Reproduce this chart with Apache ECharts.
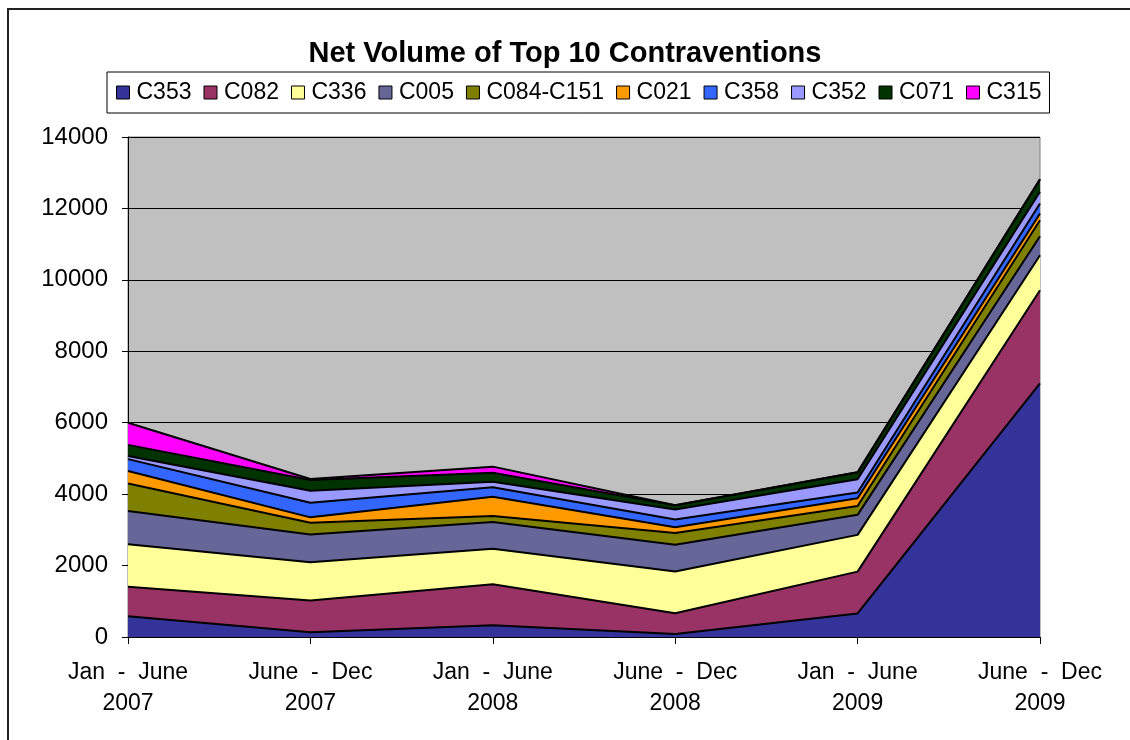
<!DOCTYPE html>
<html>
<head>
<meta charset="utf-8">
<script src="https://cdn.jsdelivr.net/npm/echarts@6/dist/echarts.min.js"></script>
<style>html,body{margin:0;padding:0;background:#fff;}#c{width:1130px;height:740px;}</style>
</head>
<body>
<div id="c"></div>
<script>
const categories = ['Jan  -  June\n2007', 'June  -  Dec\n2007', 'Jan  -  June\n2008', 'June  -  Dec\n2008', 'Jan  -  June\n2009', 'June  -  Dec\n2009'];
const seriesNames = ['C353', 'C082', 'C336', 'C005', 'C084-C151', 'C021', 'C358', 'C352', 'C071', 'C315'];
const C353 = [580, 130, 330, 85, 660, 7100];
const C082 = [830, 890, 1150, 580, 1170, 2610];
const C336 = [1190, 1070, 990, 1170, 1030, 980];
const C005 = [930, 780, 750, 750, 560, 530];
const C084_C151 = [770, 330, 170, 330, 250, 450];
const C021 = [350, 150, 540, 160, 215, 190];
const C358 = [330, 410, 260, 215, 160, 280];
const C352 = [90, 335, 160, 280, 375, 325];
const C071 = [310, 300, 250, 120, 190, 350];
const C315 = [620, 30, 170, 0, 0, 0];
const seriesValues = [C353, C082, C336, C005, C084_C151, C021, C358, C352, C071, C315];
const colors = ['#333399', '#993366', '#FFFF99', '#666699', '#808000', '#FF9900', '#3366FF', '#9999FF', '#003300', '#FF00FF'];
const yTicks = [0, 2000, 4000, 6000, 8000, 10000, 12000, 14000];

const FONT = 'Liberation Sans, Arial, sans-serif';
const chart = echarts.init(document.getElementById('c'));
chart.setOption({
  animation: false,
  backgroundColor: '#fff',
  graphic: [{
    type: 'rect', silent: true, z: -10,
    shape: {x: 8, y: 9, width: 1200, height: 800},
    style: {fill: 'none', stroke: '#222', lineWidth: 2}
  }],
  title: {
    text: 'Net Volume of Top 10 Contraventions',
    left: 'center', top: 34,
    textStyle: {fontFamily: FONT, fontSize: 29, fontWeight: 'bold', color: '#000'}
  },
  legend: {
    data: seriesNames.map(n => ({name: n, icon: 'rect'})),
    left: 107, top: 72,
    padding: [9, 8, 9, 9],
    itemWidth: 13, itemHeight: 13, itemGap: 12,
    borderColor: '#000', borderWidth: 1,
    itemStyle: {borderColor: '#000', borderWidth: 1},
    textStyle: {fontFamily: FONT, fontSize: 23, color: '#000', padding: [0, 0, 0, 2]}
  },
  grid: {
    left: 128, top: 137, width: 912, height: 500,
    show: true, backgroundColor: '#C0C0C0', borderColor: '#808080', borderWidth: 1
  },
  xAxis: {
    type: 'category', data: categories, boundaryGap: false,
    axisLine: {lineStyle: {color: '#000', width: 1}},
    axisTick: {show: true, length: 7, lineStyle: {color: '#000'}},
    axisLabel: {fontFamily: FONT, fontSize: 23, color: '#000', lineHeight: 31, margin: 20, interval: 0},
    splitLine: {show: false}
  },
  yAxis: {
    type: 'value', min: 0, max: 14000, interval: 2000,
    axisLine: {show: true, lineStyle: {color: '#000', width: 1}},
    axisTick: {show: true, length: 6, lineStyle: {color: '#000'}},
    axisLabel: {fontFamily: FONT, fontSize: 24, color: '#000', margin: 20,
      formatter: v => yTicks.includes(v) ? String(v) : ''},
    splitLine: {show: true, lineStyle: {color: '#000', width: 1}}
  },
  series: seriesNames.map((n, i) => ({
    name: n, type: 'line', stack: 'total', data: seriesValues[i],
    symbol: 'none', showSymbol: false,
    itemStyle: {color: colors[i]},
    lineStyle: {color: '#000', width: 2},
    areaStyle: {color: colors[i], opacity: 1}
  }))
});
</script>
</body>
</html>
